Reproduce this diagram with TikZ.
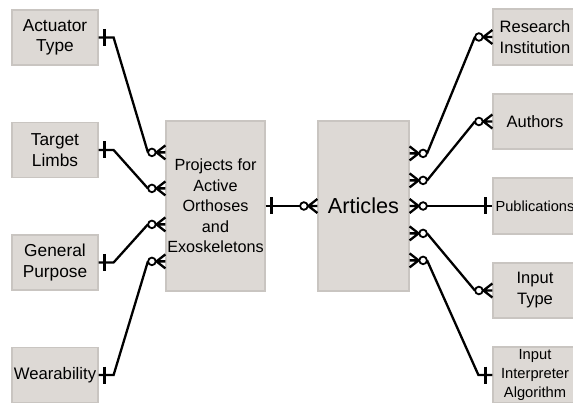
\documentclass[tikz,border=0pt]{standalone}
\usepackage{fontspec}
\setmainfont{Liberation Sans}
\usetikzlibrary{calc}

\definecolor{boxfill}{HTML}{DDD9D5}
\definecolor{boxline}{HTML}{C9C5C1}

\tikzset{
  crowL/.pic={\draw[rel] (0,-7) -- (-9,0) -- (0,7) (0,0) -- (-9,0);
              \draw[rel, line width=1.8pt, fill=white] (-13.5,0) circle (3.8);},
  crowR/.pic={\draw[rel] (0,-7) -- (9,0) -- (0,7) (0,0) -- (9,0);
              \draw[rel, line width=1.8pt, fill=white] (13.5,0) circle (3.8);},
  barR/.pic={\draw[rel] (6,-8.5) -- (6,8.5);},
  barL/.pic={\draw[rel] (-7,-8.5) -- (-7,8.5);}
}

\begin{document}
\begin{tikzpicture}[font=\fontsize{17.3}{20.5}\selectfont, x=1pt, y=-1pt]
\tikzstyle{box}=[draw=boxline, fill=boxfill, line width=1.2pt, align=center, inner sep=0pt]
\tikzstyle{side}=[box, minimum width=86pt, minimum height=55pt]
\tikzstyle{big}=[box, minimum width=99pt, minimum height=170pt]
\tikzstyle{rel}=[line width=2.3pt, black]
\useasboundingbox (0,0) rectangle (573,403);

\node[side] (actuator) at (55,37.5) {Actuator\\Type};
\node[side] (target) at (55,150) {Target\\Limbs};
\node[side] (general) at (55,262.5) {General\\Purpose};
\node[side, font=\fontsize{16.7}{20}\selectfont] (wear) at (55,375) {Wearability};

\node[big, font=\fontsize{16.2}{20.5}\selectfont] (projects) at (215.5,206) {Projects for\\Active\\Orthoses\\and\\Exoskeletons};
\node[big, minimum width=91pt, font=\fontsize{21.7}{24}\selectfont] (articles) at (363.5,206) {Articles};

\node[side, minimum width=84pt, minimum height=56pt, font=\fontsize{16.5}{21}\selectfont] (research) at (535,37) {Research\\Institution};
\node[side, minimum width=84pt, font=\fontsize{16.5}{20}\selectfont] (authors) at (535,121.5) {Authors};
\node[side, minimum width=84pt, minimum height=56pt, font=\fontsize{14.6}{18}\selectfont] (publications) at (535,206) {Publications};
\node[side, minimum width=84pt, font=\fontsize{16.5}{21}\selectfont] (inputtype) at (535,290.5) {Input\\Type};
\node[side, minimum width=84pt, minimum height=56pt, font=\fontsize{14.7}{19}\selectfont] (interp) at (535,375) {Input\\Interpreter\\Algorithm};

\coordinate (pA) at ($(projects.north west)+(0,32)$);
\coordinate (pB) at ($(projects.north west)+(0,68)$);
\coordinate (pC) at ($(projects.north west)+(0,104)$);
\coordinate (pD) at ($(projects.north west)+(0,141)$);
\coordinate (aA) at ($(articles.north east)+(0,33)$);
\coordinate (aB) at ($(articles.north east)+(0,60)$);
\coordinate (aC) at (articles.east);
\coordinate (aD) at ($(articles.north east)+(0,113)$);
\coordinate (aE) at ($(articles.north east)+(0,140)$);

\draw[rel] (actuator.east) -- ++(15,0) -- ([xshift=-17.5pt]pA);
\draw[rel] (target.east) -- ++(15,0) -- ([xshift=-17.5pt]pB);
\draw[rel] (general.east) -- ++(15,0) -- ([xshift=-17.5pt]pC);
\draw[rel] (wear.east) -- ++(15,0) -- ([xshift=-17.5pt]pD);
\foreach \n in {actuator,target,general,wear} \pic at (\n.east) {barR};
\foreach \p in {pA,pB,pC,pD} \pic at (\p) {crowL};

\draw[rel, line width=1.6pt] (projects.east) -- ([xshift=-17.5pt]articles.west);
\pic at (projects.east) {barR};
\pic at (articles.west) {crowL};

\draw[rel] ([xshift=17.5pt]aA) -- ([xshift=-17.5pt]research.west);
\draw[rel] ([xshift=17.5pt]aB) -- ([xshift=-17.5pt]authors.west);
\draw[rel] ([xshift=17.5pt]aC) -- (publications.west);
\draw[rel] ([xshift=17.5pt]aD) -- ([xshift=-17.5pt]inputtype.west);
\draw[rel] ([xshift=17.5pt]aE) -- ([xshift=-14pt]interp.west) -- (interp.west);
\foreach \a in {aA,aB,aC,aD,aE} \pic at (\a) {crowR};
\foreach \n in {research,authors,inputtype} \pic at (\n.west) {crowL};
\foreach \n in {publications,interp} \pic at (\n.west) {barL};
\end{tikzpicture}
\end{document}
